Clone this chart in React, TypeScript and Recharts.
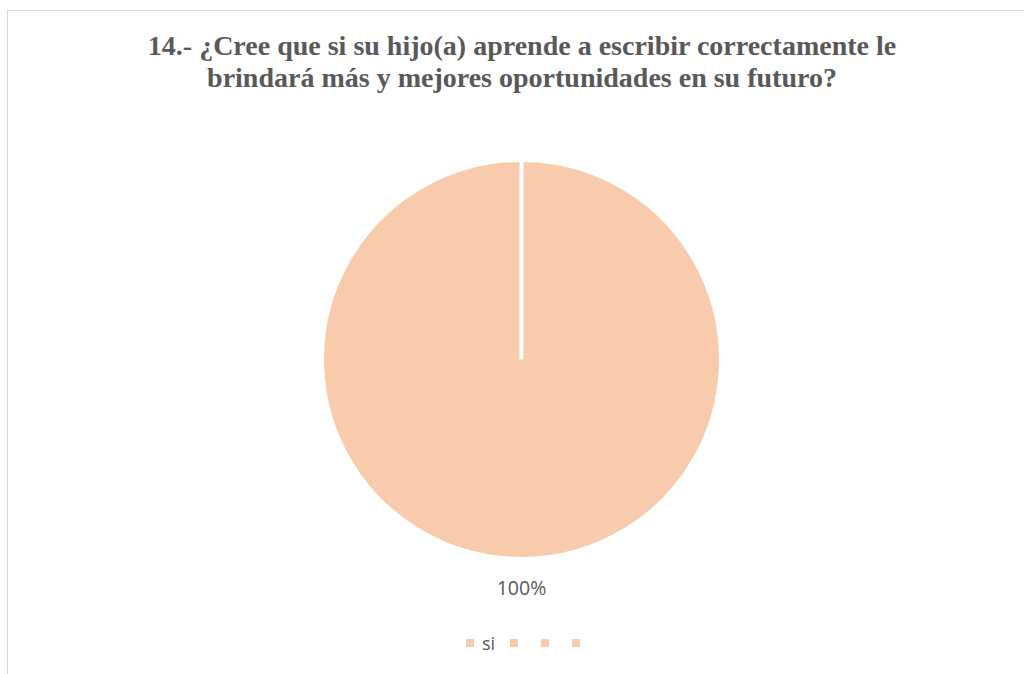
import React from "react";
import { PieChart, Pie, Cell } from "recharts";

const categories = ["si", "", "", ""];
const values = [100, 0, 0, 0];
const labels = ["100%", "", "", ""];
const title = ["14.- ¿Cree que si su hijo(a) aprende a escribir correctamente le", "brindará más y mejores oportunidades en su futuro?"];
const color = "#F8CBAD";

const data = categories.map((c, i) => ({ name: c, value: values[i], label: labels[i] }));

const renderLabel = (props: any) => {
  const { cx, cy, outerRadius, midAngle, index } = props;
  if (!labels[index]) return null;
  const RAD = Math.PI / 180;
  const r = outerRadius + 36;
  const x = cx + r * Math.cos(-midAngle * RAD);
  const y = cy + r * Math.sin(-midAngle * RAD);
  return (
    <text x={x} y={y} textAnchor="middle" fill="#595959" fontSize={19.5} fontFamily="'Open Sans', sans-serif">
      {labels[index]}
    </text>
  );
};

export default function App() {
  return (
    <div style={{ position: "absolute", left: 0, top: 0, width: 1024, height: 674, background: "#fff", overflow: "hidden" }}>
      <div style={{ position: "absolute", left: 7, top: 10, width: 1100, height: 800, border: "1.5px solid #d9d9d9", boxSizing: "border-box" }} />
      <div style={{ position: "absolute", left: 0, top: 30, width: 1044, textAlign: "center", fontFamily: "'Liberation Serif', 'Times New Roman', serif", fontWeight: "bold", fontSize: 28, lineHeight: "32px", color: "#595959", whiteSpace: "nowrap" }}>
        {title.map((t, i) => <div key={i}>{t}</div>)}
      </div>
      <div style={{ position: "absolute", left: 0, top: 0 }}>
        <PieChart width={1024} height={674} margin={{ top: 0, right: 0, bottom: 0, left: 0 }}>
          <Pie
            data={data}
            dataKey="value"
            nameKey="name"
            cx={521.5}
            cy={359.5}
            outerRadius={199.5}
            startAngle={90}
            endAngle={-270}
            stroke="#ffffff"
            strokeWidth={4}
            label={renderLabel}
            labelLine={false}
            isAnimationActive={false}
          >
            {data.map((d, i) => <Cell key={i} fill={color} />)}
          </Pie>
        </PieChart>
      </div>
      <div style={{ position: "absolute", left: 466, top: 629, height: 28, display: "flex", alignItems: "center", fontFamily: "'Open Sans', sans-serif", fontSize: 18, color: "#595959" }}>
        {categories.map((c, i) => (
          <div key={i} style={{ display: "flex", alignItems: "center", marginRight: c ? 15 : 23 }}>
            <div style={{ width: 8, height: 8, background: color, marginRight: c ? 8 : 0 }} />
            {c ? <span>{c}</span> : null}
          </div>
        ))}
      </div>
    </div>
  );
}
